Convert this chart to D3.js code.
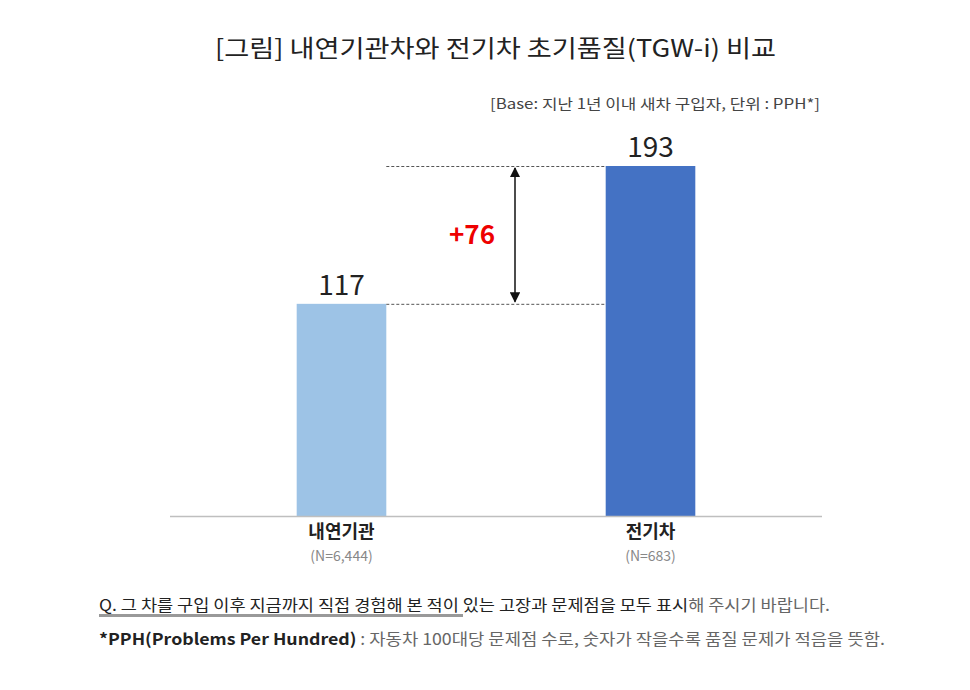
<!DOCTYPE html>
<html><head><meta charset="utf-8">
<script src="https://cdn.jsdelivr.net/npm/d3@7"></script>
<style>body{margin:0;background:#fff}text{font-family:"Noto Sans CJK KR","Noto Sans",sans-serif}</style>
</head><body><svg id="c" width="970" height="690"></svg>
<script>
const categories = ["내연기관", "전기차"];
const sampleLabels = ["(N=6,444)", "(N=683)"];
const values = [117, 193];
const colors = ["#9dc3e6", "#4472c4"];
const diffLabel = "+76";

const svg = d3.select("#c");
const x = d3.scaleBand().domain(categories).range([170, 822]).paddingInner(0.71).paddingOuter(0.41);
const y = d3.scaleLinear().domain([0, 193]).range([516, 166]);

svg.append("text").attr("x", 215).attr("y", 57).attr("textLength", 561).attr("lengthAdjust", "spacingAndGlyphs")
  .attr("font-size", 24).attr("fill", "#222").text("[그림] 내연기관차와 전기차 초기품질(TGW-i) 비교");
svg.append("text").attr("x", 490).attr("y", 109).attr("textLength", 330).attr("lengthAdjust", "spacingAndGlyphs")
  .attr("font-size", 14).attr("fill", "#444").text("[Base: 지난 1년 이내 새차 구입자, 단위 : PPH*]");

svg.selectAll("rect.bar").data(values).join("rect").attr("class", "bar")
  .attr("x", (d, i) => x(categories[i])).attr("width", x.bandwidth())
  .attr("y", d => y(d)).attr("height", d => y(0) - y(d)).attr("fill", (d, i) => colors[i]);

svg.append("line").attr("x1", 170).attr("x2", 822).attr("y1", y(0) + 0.5).attr("y2", y(0) + 0.5)
  .attr("stroke", "#bfbfbf").attr("stroke-width", 1.5);

svg.selectAll("text.val").data(values).join("text").attr("class", "val")
  .attr("x", (d, i) => x(categories[i]) + x.bandwidth() / 2).attr("y", d => y(d) - 9)
  .attr("text-anchor", "middle").attr("font-size", 28).attr("fill", "#222").text(d => d);

svg.selectAll("text.cat").data(categories).join("text").attr("class", "cat")
  .attr("x", d => x(d) + x.bandwidth() / 2).attr("y", 538).attr("text-anchor", "middle")
  .attr("font-size", 18).attr("font-weight", "bold").attr("fill", "#222").text(d => d);
svg.selectAll("text.n").data(sampleLabels).join("text").attr("class", "n")
  .attr("x", (d, i) => x(categories[i]) + x.bandwidth() / 2).attr("y", 561).attr("text-anchor", "middle")
  .attr("font-size", 14).attr("fill", "#888").text(d => d);

const xl = x(categories[0]) + x.bandwidth(), xr = x(categories[1]);
values.forEach(v => {
  svg.append("line").attr("x1", xl).attr("x2", xr)
    .attr("y1", y(v) + 0.5).attr("y2", y(v) + 0.5)
    .attr("stroke", "#555").attr("stroke-dasharray", "3,2").attr("stroke-width", 1);
});
const defs = svg.append("defs");
defs.append("marker").attr("id", "ah").attr("viewBox", "0 0 10 10").attr("refX", 9).attr("refY", 5)
  .attr("markerWidth", 7).attr("markerHeight", 7).attr("orient", "auto-start-reverse")
  .append("path").attr("d", "M0,0 L10,5 L0,10 z").attr("fill", "#111");
svg.append("line").attr("x1", 515).attr("x2", 515).attr("y1", y(values[1]) + 2).attr("y2", y(values[0]) - 2)
  .attr("stroke", "#111").attr("stroke-width", 1.5)
  .attr("marker-start", "url(#ah)").attr("marker-end", "url(#ah)");
svg.append("text").attr("x", 472).attr("y", (y(values[0]) + y(values[1])) / 2 + 9)
  .attr("text-anchor", "middle").attr("font-size", 26).attr("font-weight", "bold").attr("fill", "#e00")
  .text(diffLabel);

svg.append("rect").attr("x", 99).attr("y", 614).attr("width", 364).attr("height", 3).attr("fill", "#999");
const q = svg.append("text").attr("x", 99).attr("y", 611).attr("font-size", 16).attr("fill", "#222")
  .attr("textLength", 731).attr("lengthAdjust", "spacingAndGlyphs");
q.append("tspan").text("Q. 그 차를 구입 이후 지금까지 직접 경험해 본 적이 있는 고장과 문제점을 모두 표시");
q.append("tspan").attr("fill", "#666").text("해 주시기 바랍니다.");
const f = svg.append("text").attr("x", 99).attr("y", 645).attr("font-size", 16).attr("fill", "#666")
  .attr("textLength", 786).attr("lengthAdjust", "spacingAndGlyphs");
f.append("tspan").attr("fill", "#222").attr("font-weight", "bold").text("*PPH(Problems Per Hundred)");
f.append("tspan").text(" : 자동차 100대당 문제점 수로, 숫자가 작을수록 품질 문제가 적음을 뜻함.");
</script></body></html>
